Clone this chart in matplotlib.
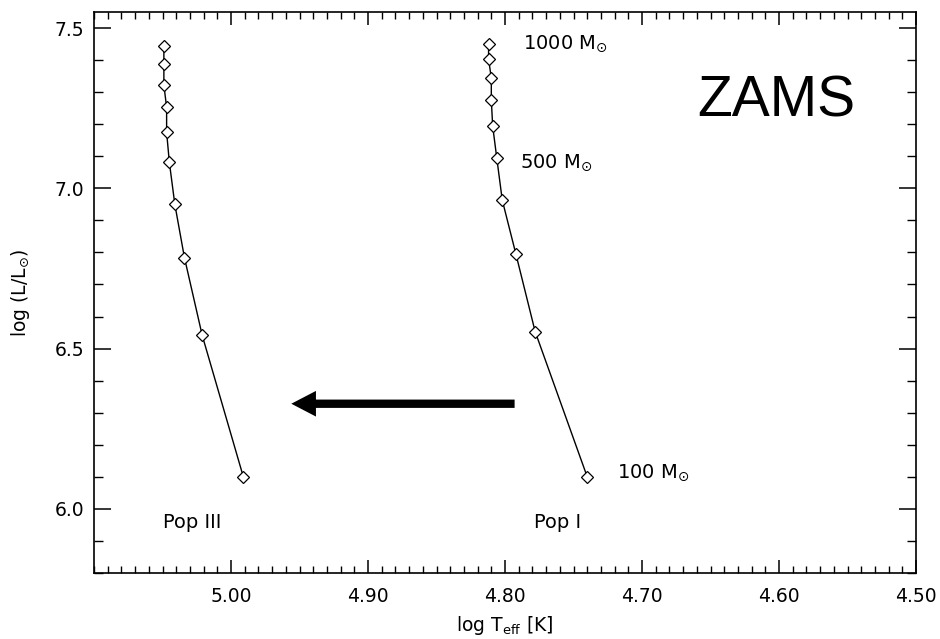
import numpy as np
import matplotlib
matplotlib.use('Agg')
import matplotlib.pyplot as plt
from matplotlib.ticker import MultipleLocator, FormatStrFormatter

# ZAMS tracks for 100 - 1000 Msun, Pop III and Pop I
masses = [1000, 900, 800, 700, 600, 500, 400, 300, 200, 100]
pop3_logT = [5.049, 5.049, 5.049, 5.047, 5.047, 5.045, 5.041, 5.034, 5.021, 4.991]
pop3_logL = [7.444, 7.388, 7.322, 7.253, 7.175, 7.081, 6.950, 6.784, 6.541, 6.100]
pop1_logT = [4.812, 4.812, 4.810, 4.810, 4.809, 4.806, 4.802, 4.792, 4.778, 4.740]
pop1_logL = [7.450, 7.403, 7.344, 7.275, 7.194, 7.094, 6.963, 6.794, 6.553, 6.100]

x_major = [5.00, 4.90, 4.80, 4.70, 4.60, 4.50]
y_major = [6.0, 6.5, 7.0, 7.5]

plt.rcParams['font.family'] = 'DejaVu Sans'

fig = plt.figure(figsize=(9.4, 6.39), dpi=100)
ax = fig.add_axes([0.1, 0.1033, 0.8745, 0.8779])

for logT, logL in [(pop3_logT, pop3_logL), (pop1_logT, pop1_logL)]:
    ax.plot(logT, logL, color='black', linewidth=1.0, marker='D',
            markersize=6.5, markerfacecolor='white', markeredgecolor='black',
            markeredgewidth=0.9)

ax.set_xlim(5.10, 4.50)
ax.set_ylim(5.80, 7.55)

ax.set_xticks(x_major)
ax.set_yticks(y_major)
ax.xaxis.set_minor_locator(MultipleLocator(0.01))
ax.yaxis.set_minor_locator(MultipleLocator(0.1))
ax.xaxis.set_major_formatter(FormatStrFormatter('%.2f'))
ax.yaxis.set_major_formatter(FormatStrFormatter('%.1f'))

ax.tick_params(direction='in', top=True, right=True, labelsize=13.5,
               width=1.1, colors='black')
ax.tick_params(axis='x', which='major', length=9.5, pad=10)
ax.tick_params(axis='x', which='minor', length=5, width=1.0,
               top=True, bottom=True, direction='in')
ax.tick_params(axis='y', which='major', length=12, pad=7)
ax.tick_params(axis='y', which='minor', length=6.5, width=1.0,
               left=True, right=True, direction='in')
for sp in ax.spines.values():
    sp.set_linewidth(1.2)

ax.set_xlabel(r'log T$_{\rm eff}$ [K]', fontsize=13.5, labelpad=6)
ax.set_ylabel(r'log (L/L$_{\odot}$)', fontsize=13.5, labelpad=16)

# mass labels along the Pop I track
ax.text(4.787, pop1_logL[0], r'%d M$_{\odot}$' % masses[0], fontsize=14,
        ha='left', va='center')
ax.text(4.789, pop1_logL[5] - 0.015, r'%d M$_{\odot}$' % masses[5], fontsize=14,
        ha='left', va='center')
ax.text(4.718, pop1_logL[9] + 0.013, r'%d M$_{\odot}$' % masses[9], fontsize=14,
        ha='left', va='center')

ax.text(5.050, 5.956, 'Pop III', fontsize=14, ha='left', va='center')
ax.text(4.779, 5.956, 'Pop I', fontsize=14, ha='left', va='center')

ax.text(4.660, 7.27, 'ZAMS', fontsize=41, family='Liberation Sans',
        ha='left', va='center')

# shift from Pop I to Pop III
ax.arrow(4.793, 6.328, 0.163, 0.0, width=0.026, head_width=0.08,
         head_length=0.018, length_includes_head=True,
         facecolor='black', edgecolor='black', linewidth=0)

plt.savefig('out.png', dpi=100, facecolor='white')
plt.close()
